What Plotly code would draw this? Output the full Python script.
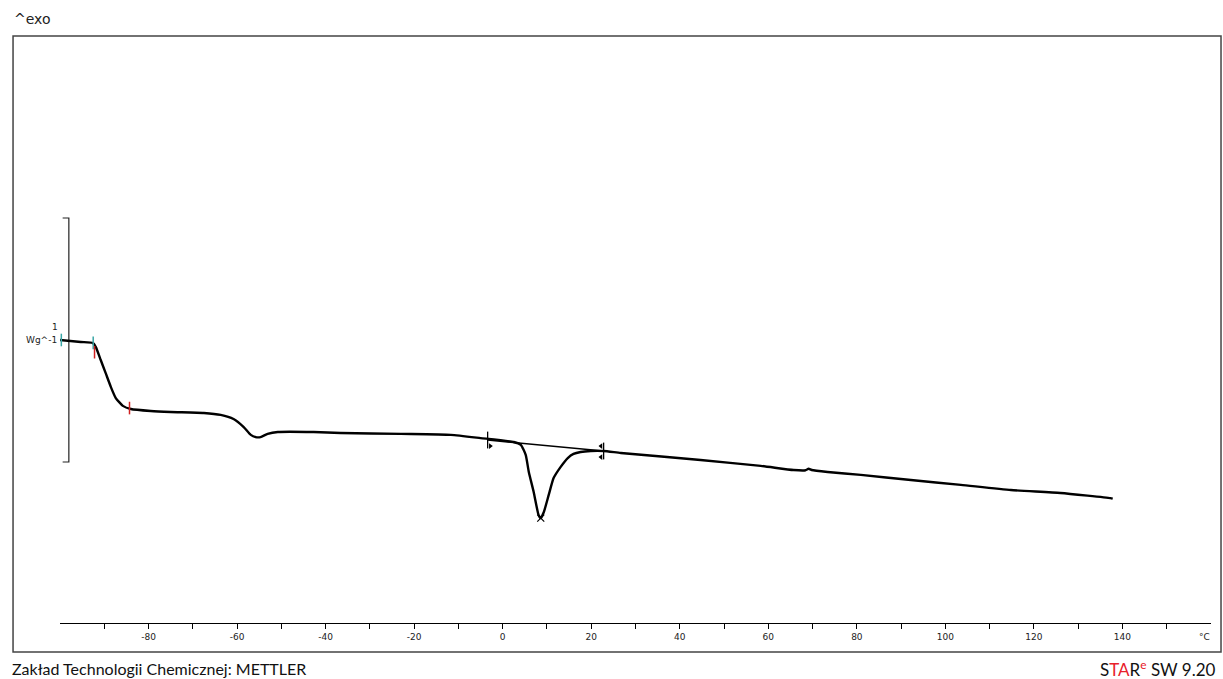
import plotly.graph_objects as go

# DSC curve: temperature (°C) and heat flow (W/g, relative)
temperature = [-100.0, -95.3, -92.6, -91.9, -90.8, -89.7, -88.5, -87.4, -85.8, -84.0,
               -79.5, -75.0, -67.5, -63.7, -60.8, -58.5, -56.9, -55.8, -54.7, -53.1,
               -50.8, -42.7, -36.6, -23.0, -11.7, -5.0, 2.5, 4.1, 5.2, 5.9,
               7.0, 8.1, 8.6, 9.3, 10.4, 11.5, 13.1, 14.7, 16.0, 17.6,
               19.9, 22.8, 26.7, 44.7, 58.3, 65.7, 68.4, 69.1, 69.8, 73.4,
               80.9, 92.2, 103.5, 114.8, 126.0, 137.3, 137.8]
heat_flow = [0.000, -0.008, -0.012, -0.029, -0.082, -0.135, -0.193, -0.238, -0.270, -0.283,
             -0.291, -0.295, -0.299, -0.307, -0.324, -0.357, -0.389, -0.398, -0.398, -0.385,
             -0.377, -0.377, -0.381, -0.385, -0.389, -0.402, -0.418, -0.430, -0.471, -0.541,
             -0.623, -0.717, -0.730, -0.705, -0.635, -0.566, -0.520, -0.484, -0.467, -0.459,
             -0.455, -0.455, -0.463, -0.492, -0.516, -0.533, -0.534, -0.528, -0.533, -0.541,
             -0.553, -0.574, -0.594, -0.615, -0.627, -0.648, -0.650]

# integration baseline of the melting peak
baseline_t = [-3.4, 22.8]
baseline_y = [-0.410, -0.455]

# evaluation markers
gt_cyan_t = [-99.7, -92.5]
gt_cyan_y = [0.0, -0.012]
gt_red_t = [-92.2, -84.3]
gt_red_y = [-0.05, -0.279]
peak_t = [8.6]
peak_y = [-0.730]

# scale bar (1 W/g)
scale_t = [-99.4, -98.0, -98.0, -99.4]
scale_y = [0.5, 0.5, -0.5, -0.5]

major_ticks = [-80, -60, -40, -20, 0, 20, 40, 60, 80, 100, 120, 140]
tick_labels = [str(v) for v in major_ticks]
minor_ticks = [-90, -70, -50, -30, -10, 10, 30, 50, 70, 90, 110, 130, 150]

fig = go.Figure()
fig.add_trace(go.Scatter(x=scale_t, y=scale_y, mode="lines",
                         line=dict(color="#222222", width=1.2), hoverinfo="skip"))
fig.add_trace(go.Scatter(x=baseline_t, y=baseline_y, mode="lines",
                         line=dict(color="black", width=1.6), hoverinfo="skip"))
fig.add_trace(go.Scatter(x=temperature, y=heat_flow, mode="lines",
                         line=dict(color="black", width=2.4, shape="spline", smoothing=0.5)))
fig.add_trace(go.Scatter(x=gt_cyan_t, y=gt_cyan_y, mode="markers",
                         marker=dict(symbol="line-ns", size=9, line=dict(color="#3aa6a6", width=1.5))))
fig.add_trace(go.Scatter(x=gt_red_t, y=gt_red_y, mode="markers",
                         marker=dict(symbol="line-ns", size=9, line=dict(color="#d02020", width=1.5))))
fig.add_trace(go.Scatter(x=baseline_t, y=baseline_y, mode="markers",
                         marker=dict(symbol="line-ns", size=12, line=dict(color="black", width=1.3))))
fig.add_trace(go.Scatter(x=[baseline_t[0] + 0.6], y=[baseline_y[0] - 0.025], mode="markers",
                         marker=dict(symbol="triangle-right", size=5, color="black")))
fig.add_trace(go.Scatter(x=[baseline_t[1] - 0.6, baseline_t[1] - 0.6],
                         y=[baseline_y[1] + 0.02, baseline_y[1] - 0.025], mode="markers",
                         marker=dict(symbol="triangle-left", size=5, color="black")))
fig.add_trace(go.Scatter(x=peak_t, y=peak_y, mode="markers",
                         marker=dict(symbol="x-thin", size=7, line=dict(color="black", width=1.2))))

fig.update_layout(
    width=1223, height=679,
    margin=dict(l=60, r=12, t=36, b=56),
    paper_bgcolor="white", plot_bgcolor="white",
    showlegend=False,
    font=dict(family="DejaVu Sans", color="#222222"),
    xaxis=dict(range=[-100, 160], showgrid=False, zeroline=False,
               showline=True, linecolor="black", linewidth=1.2,
               ticks="outside", ticklen=5, tickwidth=1, tickcolor="black",
               tickvals=major_ticks, ticktext=tick_labels,
               tickfont=dict(size=9, family="DejaVu Sans", color="#222222"),
               minor=dict(tickvals=minor_ticks, ticks="outside", ticklen=5, tickcolor="black")),
    yaxis=dict(range=[-1.160, 1.246], visible=False),
    shapes=[dict(type="rect", xref="paper", yref="paper",
                 x0=-0.0408, x1=1.0087, y0=-0.0494, y1=1.0,
                 line=dict(color="#444444", width=1.5))],
    annotations=[
        dict(text="^exo", xref="paper", yref="paper", x=-0.0416, y=1.012,
             xanchor="left", yanchor="bottom", showarrow=False,
             font=dict(size=14, family="DejaVu Sans", color="#222222")),
        dict(text="1", xref="paper", yref="paper", x=-0.0043, y=0.504,
             xanchor="center", yanchor="middle", showarrow=False,
             font=dict(size=9, family="DejaVu Sans", color="#222222")),
        dict(text="Wg^-1", xref="paper", yref="paper", x=-0.001, y=0.482,
             xanchor="right", yanchor="middle", showarrow=False,
             font=dict(size=9, family="DejaVu Sans", color="#222222")),
        dict(text="°C", xref="paper", yref="paper", x=0.9945, y=-0.012,
             xanchor="center", yanchor="top", showarrow=False,
             font=dict(size=9, family="DejaVu Sans", color="#222222")),
        dict(text="Zakład Technologii Chemicznej: METTLER", xref="paper", yref="paper",
             x=-0.0435, y=-0.077, xanchor="left", yanchor="middle", showarrow=False,
             font=dict(size=16, family="Lato", color="#111111")),
        dict(text="S<span style='color:#e8202a'>TA</span>R<sup><span style='color:#e8202a'>e</span></sup> SW 9.20",
             xref="paper", yref="paper", x=1.0065, y=-0.077, xanchor="right", yanchor="middle",
             showarrow=False, font=dict(size=17, family="Lato", color="#111111")),
    ],
)

fig.write_html("out.html", config={"displayModeBar": False},
               post_script="document.body.style.margin='0';document.body.style.padding='0';")
